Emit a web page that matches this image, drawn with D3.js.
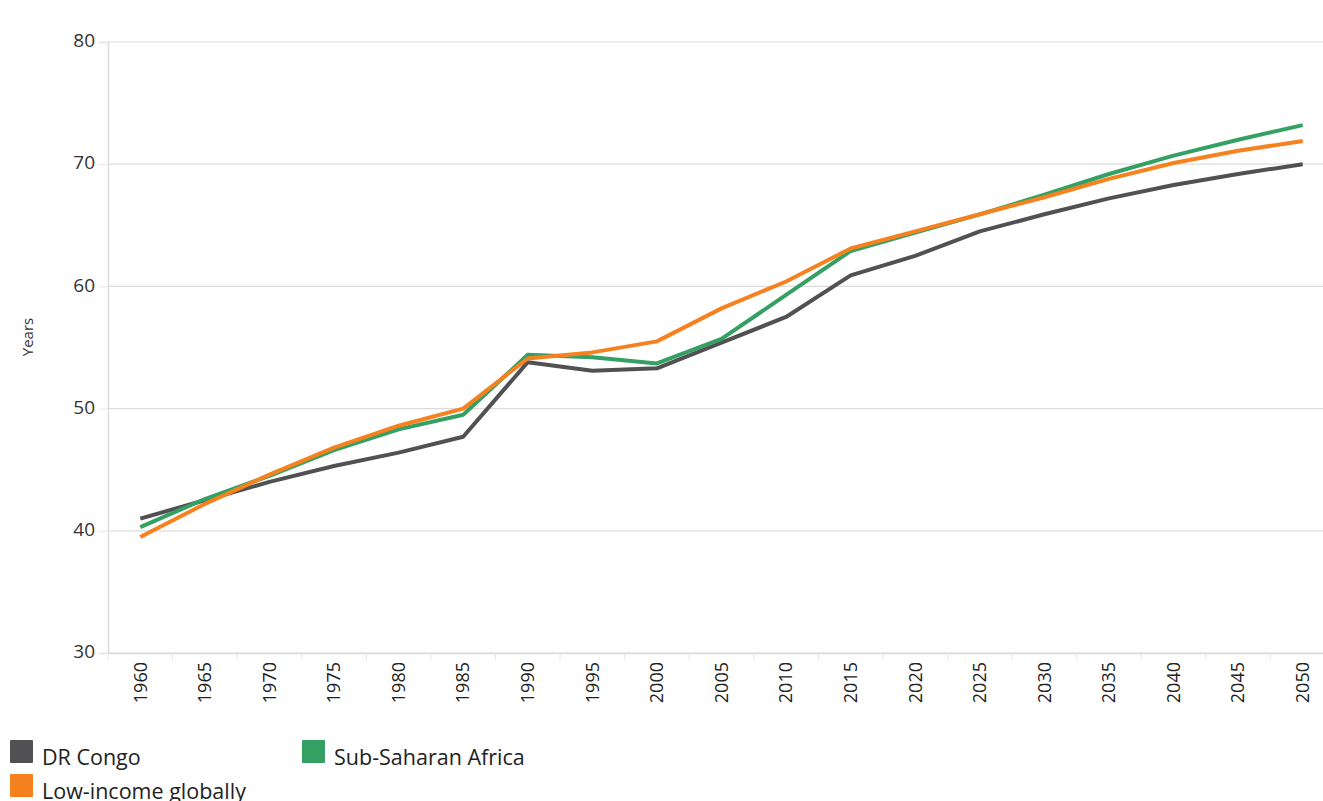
<!DOCTYPE html>
<html>
<head>
<meta charset="utf-8">
<script src="https://cdn.jsdelivr.net/npm/d3@7"></script>
<style>
  body { margin: 0; background: #fff; font-family: "Open Sans", sans-serif; }
  svg { display: block; }
</style>
</head>
<body>
<svg id="chart" width="1323" height="801"></svg>
<script>
// categories and series
var years = ["1960","1965","1970","1975","1980","1985","1990","1995","2000","2005","2010","2015","2020","2025","2030","2035","2040","2045","2050"];
var drCongo = [41.0, 42.5, 44.0, 45.3, 46.4, 47.7, 53.8, 53.1, 53.3, 55.4, 57.5, 60.9, 62.5, 64.5, 65.9, 67.2, 68.3, 69.2, 70.0];
var subSaharan = [40.3, 42.6, 44.5, 46.6, 48.3, 49.5, 54.4, 54.2, 53.7, 55.7, 59.3, 62.9, 64.4, 65.9, 67.5, 69.2, 70.7, 72.0, 73.2];
var lowIncome = [39.5, 42.2, 44.6, 46.8, 48.6, 50.0, 54.1, 54.6, 55.5, 58.2, 60.4, 63.1, 64.5, 65.9, 67.3, 68.8, 70.1, 71.1, 71.9];
var yTicks = [30, 40, 50, 60, 70, 80];

var series = [
  {name: "DR Congo", values: drCongo, color: "#515153"},
  {name: "Sub-Saharan Africa", values: subSaharan, color: "#35a063"},
  {name: "Low-income globally", values: lowIncome, color: "#f5821f"}
];

var svg = d3.select("#chart"),
    margin = {top: 17, left: 108},
    plotW = 1227,
    plotH = 636,
    g = svg.append("g").attr("transform", "translate(" + margin.left + "," + margin.top + ")");

var x = d3.scaleBand().domain(years).range([0, plotW]);
var y = d3.scaleLinear().domain([30, 80]).range([plotH, 25]);

// gridlines
g.append("g")
  .selectAll("line")
  .data(yTicks)
  .enter().append("line")
    .attr("x1", 0)
    .attr("x2", plotW)
    .attr("y1", function(d) { return y(d); })
    .attr("y2", function(d) { return y(d); })
    .attr("stroke", "#dcdcdc")
    .attr("stroke-width", 1.2);

// y axis
var yAxis = g.append("g")
  .call(d3.axisLeft(y).tickValues(yTicks).tickSize(9).tickPadding(4));
yAxis.select(".domain").attr("stroke", "#dcdcdc").attr("stroke-width", 1.5);
yAxis.selectAll(".tick line").attr("stroke", "#e6e6e6");
yAxis.selectAll("text").attr("font-family", "Open Sans").attr("font-size", 19).attr("fill", "#333").attr("dy", "0.25em");

// x axis
var xAxis = g.append("g")
  .attr("transform", "translate(0," + plotH + ")")
  .call(d3.axisBottom(x).tickSize(0).tickPadding(0));
xAxis.select(".domain").attr("stroke", "#dcdcdc").attr("stroke-width", 1.5);
xAxis.selectAll("text")
  .attr("font-family", "Open Sans")
  .attr("font-size", 18)
  .attr("fill", "#222")
  .attr("text-anchor", "end")
  .attr("transform", "rotate(-90)")
  .attr("x", -9)
  .attr("y", 0)
  .attr("dy", "0.35em");

// band edge ticks
g.append("g")
  .selectAll("line")
  .data(years)
  .enter().append("line")
    .attr("x1", function(d) { return x(d); })
    .attr("x2", function(d) { return x(d); })
    .attr("y1", plotH)
    .attr("y2", plotH + 7)
    .attr("stroke", "#e6e6e6");

// y title
svg.append("text")
  .attr("transform", "translate(33,337) rotate(-90)")
  .attr("text-anchor", "middle")
  .attr("font-family", "Open Sans")
  .attr("font-size", 15)
  .attr("fill", "#333")
  .text("Years");

// lines
var line = d3.line()
  .x(function(d, i) { return x(years[i]) + x.bandwidth() / 2; })
  .y(function(d) { return y(d); });

g.append("g")
  .selectAll("path")
  .data(series)
  .enter().append("path")
    .attr("d", function(d) { return line(d.values); })
    .attr("fill", "none")
    .attr("stroke", function(d) { return d.color; })
    .attr("stroke-width", 4)
    .attr("stroke-linejoin", "round");

// legend
var legendPos = [[10, 740], [302, 740], [10, 774]];
var legend = svg.append("g")
  .selectAll("g")
  .data(series)
  .enter().append("g")
    .attr("transform", function(d, i) { return "translate(" + legendPos[i][0] + "," + legendPos[i][1] + ")"; });

legend.append("rect")
  .attr("width", 23)
  .attr("height", 23)
  .attr("rx", 1)
  .attr("fill", function(d) { return d.color; });

legend.append("text")
  .attr("x", 32)
  .attr("y", 25)
  .attr("font-family", "Open Sans")
  .attr("font-size", 21.5)
  .attr("fill", "#222")
  .text(function(d) { return d.name; });
</script>
</body>
</html>
